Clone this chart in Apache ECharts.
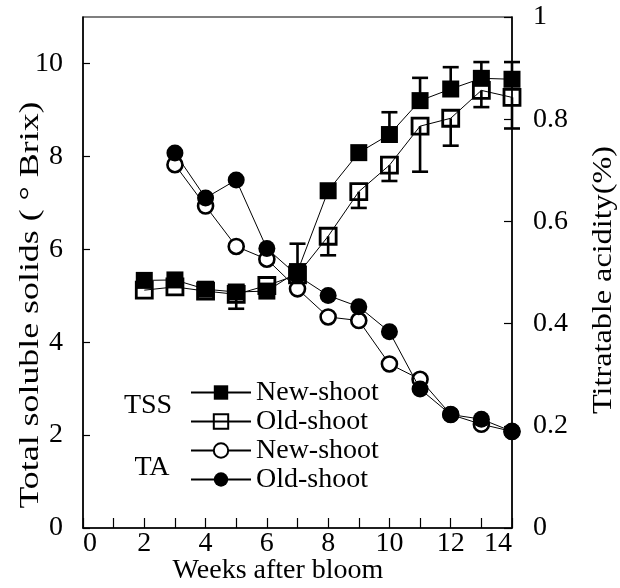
<!DOCTYPE html>
<html>
<head>
<meta charset="utf-8">
<script src="https://cdn.jsdelivr.net/npm/echarts@6/dist/echarts.min.js"></script>
<style>
  html, body { margin: 0; padding: 0; background: #fff; }
  #chart { width: 620px; height: 588px; }
</style>
</head>
<body>
<div id="chart"></div>
<script>
// Total soluble solids (°Brix), weeks 2-14
const weeks = [2, 3, 4, 5, 6, 7, 8, 9, 10, 11, 12, 13, 14];
const tssNew = [5.33, 5.34, 5.14, 5.08, 5.10, 5.52, 7.26, 8.08, 8.47, 9.20, 9.45, 9.68, 9.66];
const tssOld = [5.12, 5.19, 5.10, 5.03, 5.22, 5.45, 6.28, 7.24, 7.81, 8.65, 8.82, 9.42, 9.27];
// Error bar ends: new-shoot bars point up, old-shoot bars point down (null = no bar)
const tssNewErrEnd = [null, null, null, null, null, 6.12, null, null, 8.95, 9.69, 9.92, 10.03, 10.03];
const tssOldErrEnd = [null, null, null, 4.72, null, null, 5.87, 6.89, 7.47, 7.67, 8.23, 9.06, 8.60];

// Titratable acidity (%), weeks 3-14
const taWeeks = [3, 4, 5, 6, 7, 8, 9, 10, 11, 12, 13, 14];
const taNew = [0.711, 0.630, 0.551, 0.526, 0.468, 0.413, 0.406, 0.321, 0.291, 0.222, 0.203, 0.189];
const taOld = [0.734, 0.646, 0.681, 0.547, 0.494, 0.455, 0.433, 0.384, 0.272, 0.222, 0.213, 0.189];

// Tick labels
const xTickLabels = [0, 2, 4, 6, 8, 10, 12, 14];
const leftTickLabels = [0, 2, 4, 6, 8, 10];
const rightTickLabels = [0, 0.2, 0.4, 0.6, 0.8, 1];

const FONT = '"Liberation Serif", "Times New Roman", Times, serif';
const INK = '#000';

function pairs(xs, ys) {
  return xs.map((x, i) => [x, ys[i]]);
}
function errData(values, ends) {
  const out = [];
  weeks.forEach((w, i) => {
    if (ends[i] != null) out.push([w, values[i], ends[i]]);
  });
  return out;
}
function labelIn(list) {
  return function (v) {
    const r = Math.round(v * 1000) / 1000;
    return list.indexOf(r) >= 0 ? String(r) : '';
  };
}

function renderErrorBar(params, api) {
  const x = api.value(0);
  const p0 = api.coord([x, api.value(1)]);
  const p1 = api.coord([x, api.value(2)]);
  const hw = 8;
  const st = { stroke: INK, lineWidth: 2.6 };
  return {
    type: 'group',
    children: [
      { type: 'line', shape: { x1: p0[0], y1: p0[1], x2: p1[0], y2: p1[1] }, style: st },
      { type: 'line', shape: { x1: p1[0] - hw, y1: p1[1], x2: p1[0] + hw, y2: p1[1] }, style: st }
    ]
  };
}

const lineCommon = {
  type: 'line',
  lineStyle: { color: INK, width: 1 },
  emphasis: { disabled: true },
  animation: false
};

const chart = echarts.init(document.getElementById('chart'), null, { renderer: 'canvas' });
chart.setOption({
  animation: false,
  backgroundColor: '#fff',
  grid: {
    left: 83, right: 108, top: 17, bottom: 60,
    show: true, borderColor: INK, borderWidth: 1.2, backgroundColor: 'transparent'
  },
  xAxis: {
    type: 'value', min: 0, max: 14, interval: 1,
    axisLine: { lineStyle: { color: INK, width: 1.5 } },
    axisTick: { inside: true, length: 10, lineStyle: { color: INK, width: 1.2 } },
    splitLine: { show: false },
    axisLabel: {
      color: INK, fontFamily: FONT, fontSize: 28, margin: 2,
      formatter: labelIn(xTickLabels),
      alignMinLabel: 'left', alignMaxLabel: 'right'
    }
  },
  yAxis: [
    {
      type: 'value', min: 0, max: 11, interval: 2, position: 'left',
      axisLine: { show: true, lineStyle: { color: INK, width: 1.5 } },
      axisTick: { show: true, inside: true, length: 7, lineStyle: { color: INK, width: 1.2 } },
      splitLine: { show: false },
      axisLabel: { color: INK, fontFamily: FONT, fontSize: 28, margin: 20, showMaxLabel: false,
                   formatter: labelIn(leftTickLabels) }
    },
    {
      type: 'value', min: 0, max: 1, interval: 0.2, position: 'right',
      axisLine: { show: true, lineStyle: { color: INK, width: 1.5 } },
      axisTick: { show: true, inside: true, length: 8, lineStyle: { color: INK, width: 1.2 } },
      splitLine: { show: false },
      axisLabel: { color: INK, fontFamily: FONT, fontSize: 28, margin: 21,
                   formatter: labelIn(rightTickLabels) }
    }
  ],
  legend: {
    data: ['TSS|New-shoot', 'TSS|Old-shoot', 'TA|New-shoot', 'TA|Old-shoot'],
    orient: 'vertical', left: 190, top: 378, padding: 0,
    itemWidth: 60, itemHeight: 18, itemGap: 0,
    selectedMode: false,
    formatter: (n) => n.split('|')[1],
    textStyle: { color: INK, fontFamily: FONT, fontSize: 28, lineHeight: 29 }
  },
  graphic: [
    { type: 'text', x: 278, y: 571, silent: true,
      style: { text: 'Weeks after bloom', fill: INK, font: '28px ' + FONT, align: 'center', verticalAlign: 'middle' } },
    { type: 'text', x: 31, y: 305, rotation: Math.PI / 2, scaleX: 1.28, silent: true,
      style: { text: 'Total soluble solids ( ° Brix)', fill: INK, font: '28px ' + FONT, align: 'center', verticalAlign: 'middle' } },
    { type: 'text', x: 604, y: 280, rotation: Math.PI / 2, scaleX: 1.15, silent: true,
      style: { text: 'Titratable acidity(%)', fill: INK, font: '28px ' + FONT, align: 'center', verticalAlign: 'middle' } },
    { type: 'text', x: 148, y: 406, silent: true,
      style: { text: 'TSS', fill: INK, font: '28px ' + FONT, align: 'center', verticalAlign: 'middle' } },
    { type: 'text', x: 152, y: 468, silent: true,
      style: { text: 'TA', fill: INK, font: '28px ' + FONT, align: 'center', verticalAlign: 'middle' } }
  ],
  series: [
    Object.assign({}, lineCommon, {
      name: 'TA|New-shoot', yAxisIndex: 1, z: 2,
      data: pairs(taWeeks, taNew),
      symbol: 'circle', symbolSize: 15,
      itemStyle: { color: '#fff', borderColor: INK, borderWidth: 2.6 }
    }),
    Object.assign({}, lineCommon, {
      name: 'TA|Old-shoot', yAxisIndex: 1, z: 3,
      data: pairs(taWeeks, taOld),
      symbol: 'circle', symbolSize: 17,
      itemStyle: { color: INK, borderColor: INK, borderWidth: 0 }
    }),
    Object.assign({}, lineCommon, {
      name: 'TSS|Old-shoot', yAxisIndex: 0, z: 4,
      data: pairs(weeks, tssOld),
      symbol: 'rect', symbolSize: 16,
      itemStyle: { color: 'rgba(255,255,255,0)', borderColor: INK, borderWidth: 2.8 }
    }),
    Object.assign({}, lineCommon, {
      name: 'TSS|New-shoot', yAxisIndex: 0, z: 5,
      data: pairs(weeks, tssNew),
      symbol: 'rect', symbolSize: 17,
      itemStyle: { color: INK, borderColor: INK, borderWidth: 0 }
    }),
    {
      type: 'custom', name: 'tssNewErr', yAxisIndex: 0, z: 6, silent: true,
      renderItem: renderErrorBar, encode: { x: 0, y: [1, 2] },
      data: errData(tssNew, tssNewErrEnd)
    },
    {
      type: 'custom', name: 'tssOldErr', yAxisIndex: 0, z: 6, silent: true,
      renderItem: renderErrorBar, encode: { x: 0, y: [1, 2] },
      data: errData(tssOld, tssOldErrEnd)
    }
  ]
});
</script>
</body>
</html>
